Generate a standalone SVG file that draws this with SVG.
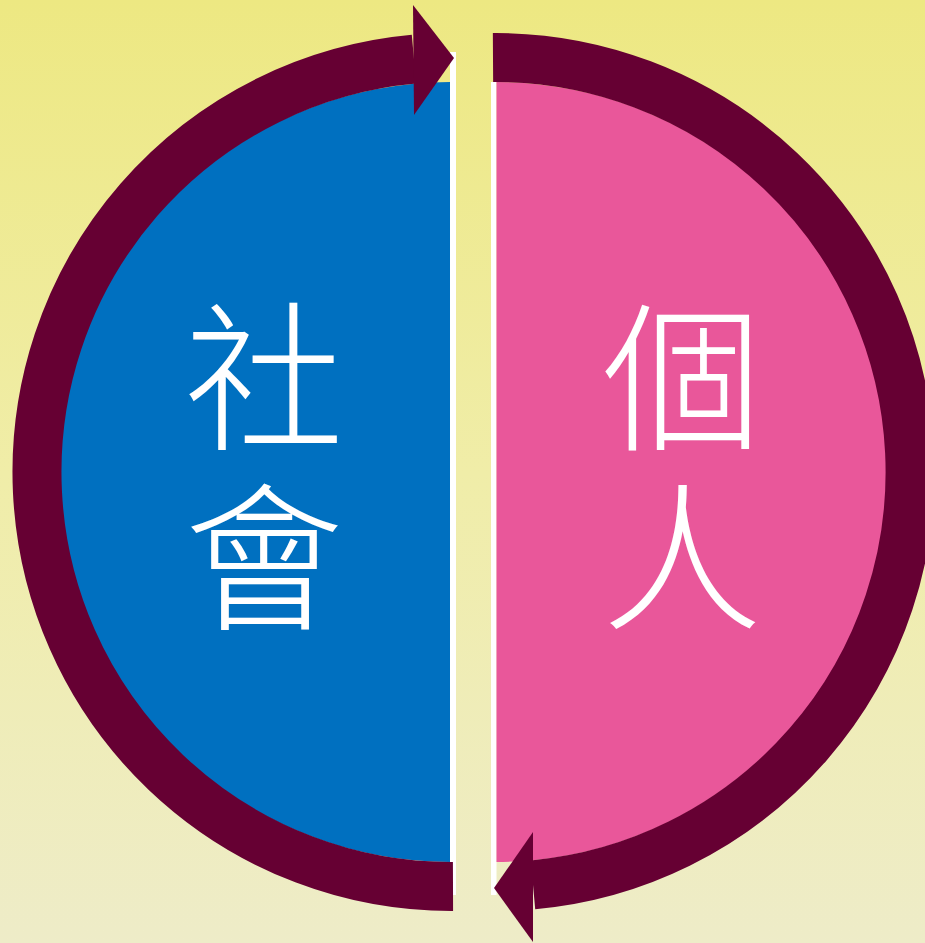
<svg xmlns="http://www.w3.org/2000/svg" width="925" height="943" viewBox="0 0 925 943">
<defs>
<linearGradient id="bg" x1="0" y1="0" x2="0" y2="1">
<stop offset="0" stop-color="#EDE882"/>
<stop offset="0.5" stop-color="#F0EDA8"/>
<stop offset="1" stop-color="#EEECC8"/>
</linearGradient>
</defs>
<style>
.band{fill:none;stroke:#660033;stroke-width:49;stroke-linecap:butt}
.head{fill:#660033}
.strip{fill:#FFFFFF}
.lbl{font-family:"Noto Sans CJK TC","Noto Sans CJK SC",sans-serif;font-weight:300;font-size:160px;fill:#FFFFFF;writing-mode:vertical-rl;letter-spacing:20px}
</style>
<rect x="0" y="0" width="925" height="943" fill="url(#bg)"/>
<g id="society">
<rect class="strip" x="450" y="52" width="6" height="843"/>
<path d="M450,82 A390,390 0 0 0 450,862 Z" fill="#0070C0"/>
<text class="lbl" x="264" y="297">社會</text>
</g>
<g id="individual">
<rect class="strip" x="491" y="82" width="5.5" height="813"/>
<path d="M496.5,82 A390,390 0 0 1 496.5,862 Z" fill="#E9579A"/>
<text class="lbl" x="682" y="297">個人</text>
</g>
<g id="connectors">
<path class="band" d="M453,886.5 A414.5,414.5 0 0 1 414,59.2"/>
<polygon class="head" points="413,5 414,115 454,58"/>
<path class="band" d="M493,57.5 A414.5,414.5 0 0 1 533,884.8"/>
<polygon class="head" points="533,832 533,942 494,888"/>
</g>
</svg>
